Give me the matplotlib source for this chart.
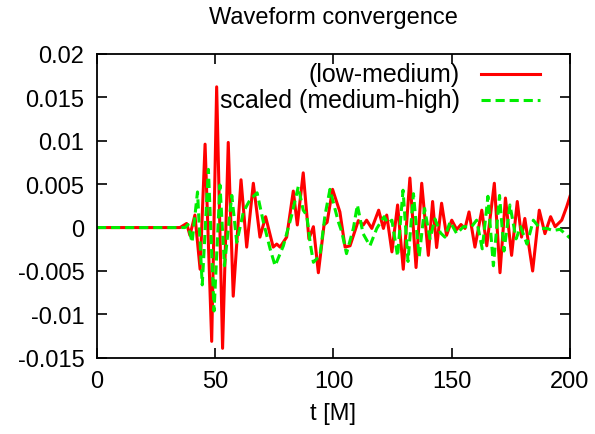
import matplotlib
matplotlib.use("Agg")
import matplotlib.pyplot as plt

# (low-medium) resolution difference
t_low = [0, 35.1, 37.9, 39.3, 41.4, 43.6, 45.7, 48.5, 50.6, 53.1, 55.5, 57.6,
         60.9, 63.3, 66.1, 68.9, 71.3, 74.5, 76.0, 77.4, 80.2, 83.0, 84.7,
         87.2, 89.6, 91.5, 93.6, 96.0, 97.3, 99.6, 102.7, 104.9, 107.0, 110.5,
         112.6, 114.0, 116.2, 119.1, 121.1, 122.5, 124.7, 127.1, 129.5, 132.3,
         134.9, 137.3, 140.1, 141.9, 143.6, 145.7, 147.8, 150.0, 152.1, 153.9,
         155.6, 157.3, 159.8, 162.7, 164.8, 168.0, 170.4, 172.7, 175.3, 177.7,
         179.5, 180.9, 184.2, 187.0, 189.4, 191.8, 193.7, 196.5, 198.6, 200]
h_low = [0, 0, 0.00047, -0.0009, 0.00144, -0.0048, 0.0096, -0.0131, 0.0162,
         -0.0139, 0.0098, -0.0079, 0.0055, -0.00225, 0.0051, -0.0011, 0.00125,
         -0.00225, -0.0019, -0.00225, -0.0011, 0.0042, 0.0003, 0.0063, -0.0013,
         0.0001, -0.0052, 0.0003, 0.0006, 0.0044, 0.0018, -0.00225, -0.0021,
         0.0008, 0.0003, 0.00085, -0.0001, 0.002, -0.0001, 0.00144, -0.0028,
         0.0026, -0.0048, 0.0057, -0.0046, 0.0051, -0.0032, 0.003, -0.0023,
         0.0028, -0.0009, 0.00085, -0.00023, 0.00035, -0.0001, 0.0018, -0.00225,
         0.002, -0.0021, 0.0051, -0.0052, 0.0034, -0.0032, 0.003, -0.0011,
         0.00105, -0.005, 0.002, -0.0007, 0.00125, 0.0001, 0.00085, 0.0024,
         0.0036]

# scaled (medium-high) difference
t_high = [0, 37.2, 38.5, 40.2, 42.5, 44.5, 47.1, 49.5, 52.0, 53.9, 57.0, 59.1,
          61.9, 64.7, 67.7, 70.3, 73.2, 75.3, 78.8, 82.3, 85.1, 87.2, 88.7,
          90.1, 91.5, 94.3, 96.4, 98.5, 102.0, 103.5, 105.5, 108.4, 110.1,
          112.5, 115.4, 118.3, 121.4, 123.0, 124.7, 127.1, 129.4, 131.5, 133.8,
          136.2, 138.5, 140.8, 142.9, 145.2, 147.1, 149.3, 152.1, 154.9, 158.4,
          160.5, 162.9, 165.3, 167.6, 170.2, 172.1, 174.6, 177.2, 179.1, 181.8,
          184.5, 187.3, 190.3, 192.8, 195.8, 198.7, 200]
h_high = [0, 0, 0.00035, -0.0017, 0.0041, -0.0066, 0.0067, -0.0096, 0.0049,
          -0.0044, 0.0037, -0.0017, 0.0018, 0.0032, 0.004, 0.0007, -0.00245,
          -0.0044, -0.0021, 0.0014, 0.0047, 0.002, 0.0014, -0.0017, -0.004,
          -0.0032, 0.0014, 0.0044, 0.0007, -0.0005, -0.003, -0.0001, 0.0026,
          -0.0007, -0.0021, -0.0001, 0.00125, 0.0005, 0.00085, -0.0033, 0.0043,
          -0.0039, 0.0039, -0.0034, 0.0022, -0.0013, 0.001, -0.0006, -0.0011,
          0.00066, -0.0007, 0.0001, 0.0001, 0.00085, -0.00245, 0.0036, -0.0044,
          0.0037, -0.0027, 0.0026, -0.0013, 0.0001, -0.0019, 0.00085, -0.0001,
          -0.0001, -0.00035, -0.0002, -0.0009, -0.0012]

labels = ["(low-medium)", "scaled (medium-high)"]
x_ticks = [0, 50, 100, 150, 200]
y_ticks = [-0.015, -0.01, -0.005, 0, 0.005, 0.01, 0.015, 0.02]
y_tick_labels = ["-0.015", "-0.01", "-0.005", "0", "0.005", "0.01", "0.015", "0.02"]

plt.rcParams["font.family"] = ["Liberation Sans", "DejaVu Sans"]
plt.rcParams["font.size"] = 17

RED = "#ff0000"
GREEN = "#00ee00"
DASH = (3, 1.6)

fig = plt.figure(figsize=(5.95, 4.35), dpi=100)
ax = fig.add_axes([0.163, 0.175, 0.795, 0.699])

ax.plot(t_low, h_low, color=RED, lw=2.2, solid_joinstyle="round")
ax.plot(t_high, h_high, color=GREEN, lw=2.2, dashes=DASH, dash_joinstyle="round")

ax.set_xlim(0, 200)
ax.set_ylim(-0.015, 0.02)
ax.set_xticks(x_ticks)
ax.set_yticks(y_ticks)
ax.set_yticklabels(y_tick_labels)
ax.tick_params(direction="in", length=7, width=1.2, top=True, right=True, pad=9)
for s in ax.spines.values():
    s.set_linewidth(1.3)

ax.set_xlabel("t [M]", labelpad=7)
fig.text(0.56, 0.958, "Waveform convergence", ha="center", va="center")

# gnuplot-like key: right-aligned text, sample line to the right
ax.text(0.767, 0.935, labels[0], ha="right", va="center", fontsize=18,
        transform=ax.transAxes)
ax.plot([0.812, 0.937], [0.935, 0.935], transform=ax.transAxes, color=RED, lw=2.2)
ax.text(0.767, 0.849, labels[1], ha="right", va="center", fontsize=18,
        transform=ax.transAxes)
ax.plot([0.812, 0.937], [0.849, 0.849], transform=ax.transAxes, color=GREEN,
        lw=2.2, dashes=DASH)

fig.savefig("out.png", dpi=100)
